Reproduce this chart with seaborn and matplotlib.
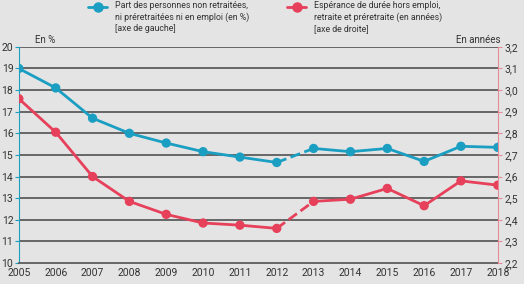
import matplotlib
matplotlib.use('Agg')
from matplotlib.lines import Line2D
from matplotlib.ticker import FuncFormatter
import matplotlib.pyplot as plt
import seaborn as sns
import pandas as pd

years = [2005, 2006, 2007, 2008, 2009, 2010, 2011, 2012,
         2013, 2014, 2015, 2016, 2017, 2018]
part_pct = [19.0, 18.1, 16.7, 16.0, 15.55, 15.15, 14.9, 14.65,
            15.3, 15.15, 15.3, 14.7, 15.4, 15.35]
esperance = [2.96, 2.805, 2.60, 2.485, 2.425, 2.385, 2.375, 2.36,
             2.485, 2.495, 2.545, 2.465, 2.58, 2.56]
label_blue = ('Part des personnes non retraitées,\n'
              'ni préretraitées ni en emploi (en %)\n[axe de gauche]')
label_red = ('Espérance de durée hors emploi,\n'
             'retraite et préretraite (en années)\n[axe de droite]')

blue = '#1a9ec2'
red = '#e6405a'
bg = '#e4e4e4'
txt = '#333333'

df = pd.DataFrame({'year': years, 'part': part_pct, 'esp': esperance})
before = df[df['year'] <= 2012]
gap = df[(df['year'] >= 2012) & (df['year'] <= 2013)]
after = df[df['year'] >= 2013]

sns.set_style('white')
plt.rcParams['font.family'] = ['Roboto', 'DejaVu Sans']

fig = plt.figure(figsize=(5.24, 2.84), dpi=100, facecolor=bg)
ax = fig.add_axes([0.036, 0.074, 0.914, 0.761])
ax.set_facecolor(bg)
ax2 = ax.twinx()

for part, ls in [(before, '-'), (gap, '--'), (after, '-')]:
    sns.lineplot(data=part, x='year', y='part', ax=ax, color=blue,
                 linewidth=2, linestyle=ls)
    sns.lineplot(data=part, x='year', y='esp', ax=ax2, color=red,
                 linewidth=2, linestyle=ls)
sns.scatterplot(data=df, x='year', y='part', ax=ax, color=blue, s=45,
                edgecolor='none', zorder=5)
sns.scatterplot(data=df, x='year', y='esp', ax=ax2, color=red, s=45,
                edgecolor='none', zorder=5)

ax.set_xlim(2005, 2018)
ax.set_ylim(10, 20)
ax2.set_ylim(2.2, 3.2)
ax.set_xticks(years)
ax.set_yticks(range(10, 21))
ax2.set_yticks([2.2 + 0.1 * i for i in range(11)])
ax2.yaxis.set_major_formatter(FuncFormatter(lambda v, p: f'{v:.1f}'.replace('.', ',')))
ax.set_xlabel('')
ax.set_ylabel('')
ax2.set_ylabel('')

for v in range(11, 21):
    ax.axhline(v, color='#5c5c5c', linewidth=1.3, zorder=0)

ax.spines['top'].set_visible(False)
ax2.spines['top'].set_visible(False)
ax.spines['right'].set_visible(False)
ax2.spines['left'].set_visible(False)
ax2.spines['bottom'].set_visible(False)
ax.spines['left'].set_color(blue)
ax2.spines['right'].set_color('#e88a9a')
ax.spines['bottom'].set_color('#5c5c5c')
ax.spines['bottom'].set_linewidth(1.3)

ax.tick_params(axis='y', length=3, color=blue, labelsize=7.5, pad=1, labelcolor=txt)
ax.tick_params(axis='x', length=3, color='#5c5c5c', labelsize=7.5, pad=2,
               labelcolor=txt, direction='inout')
ax2.tick_params(axis='y', length=3, color='#e88a9a', labelsize=7.5, pad=2,
                labelcolor=txt)

fig.text(35 / 524, 1 - 40 / 284, 'En %', fontsize=7, color=txt, va='center')
fig.text(500 / 524, 1 - 40 / 284, 'En années', fontsize=7, color=txt,
         va='center', ha='right')

# legend drawn by hand so the symbol sits on the first text line
W, H = 524, 284
for col, lab, x0 in [(blue, label_blue, 88), (red, label_red, 287)]:
    fig.add_artist(Line2D([x0 / W, (x0 + 19) / W], [1 - 6.5 / H, 1 - 6.5 / H],
                          transform=fig.transFigure, color=col, linewidth=2))
    fig.add_artist(Line2D([(x0 + 9.5) / W], [1 - 6.5 / H], transform=fig.transFigure,
                          color=col, marker='o', markersize=6.5, linestyle='none'))
    fig.text((x0 + 27) / W, 1 - 1.5 / H, lab, fontsize=6.3, color=txt,
             va='top', ha='left', linespacing=1.3)

fig.savefig('out.png', dpi=100, facecolor=bg)
